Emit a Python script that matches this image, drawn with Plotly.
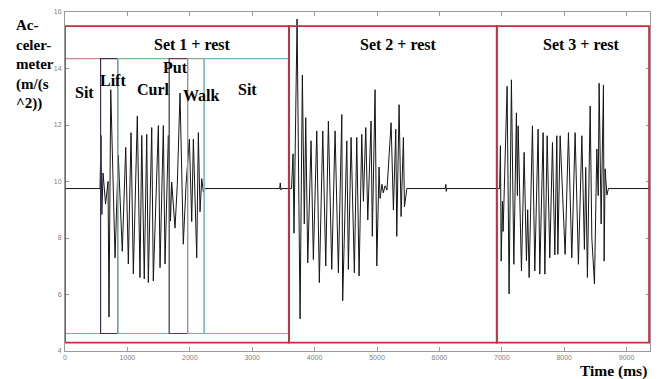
import plotly.graph_objects as go

# ---- signal: times (ms) and acceleration (m/s^2) ----
t_set1 = [0, 561, 577, 590, 610, 650, 690, 705, 733, 802, 854, 918, 973, 1015, 1058, 1095,
          1159, 1202, 1230, 1270, 1310, 1335, 1390, 1415, 1496, 1523, 1576, 1603, 1656,
          1690, 1710, 1763, 1800, 1843, 1896, 1940, 1993, 2031, 2057, 2111, 2137, 2164,
          2191, 2217, 2244, 3440, 3450, 3460, 3470]
a_set1 = [9.75, 9.75, 11.63, 8.83, 10.3, 9.2, 10.0, 5.20, 13.25, 7.30, 10.93, 7.53, 11.21, 7.08,
          11.73, 6.73, 12.32, 6.60, 11.63, 6.55, 11.67, 6.42, 11.91, 6.48, 11.98, 6.95, 11.98,
          7.08, 11.63, 8.6, 9.98, 8.35, 9.9, 13.13, 7.78, 9.9, 11.50, 8.58, 11.50, 7.30, 11.73,
          8.93, 10.10, 9.63, 9.75, 9.75, 9.95, 9.70, 9.75]

t_set2 = [3630, 3655, 3670, 3685, 3719, 3767, 3804, 3835, 3858, 3890, 3943, 3980, 4035, 4076,
          4131, 4179, 4221, 4275, 4328, 4381, 4436, 4450, 4516, 4541, 4585, 4637, 4676, 4713,
          4756, 4782, 4820, 4852, 4905, 4925, 4969, 4997, 5033, 5049, 5080, 5100, 5130, 5160,
          5226, 5263, 5301, 5317, 5354, 5386, 5423, 5440, 5478, 6095, 6103, 6110, 6118]
a_set2 = [9.75, 10.98, 8.17, 10.5, 15.75, 5.14, 13.77, 8.5, 12.26, 7.12, 11.44, 7.24, 11.79, 6.42,
          11.79, 7.01, 12.14, 6.89, 11.79, 6.77, 12.37, 5.78, 11.44, 6.89, 11.56, 6.77, 11.56,
          6.66, 11.67, 9.3, 11.91, 8.64, 12.14, 8.06, 13.25, 7.01, 10.51, 9.4, 9.9, 9.6, 9.85,
          9.7, 12.08, 8.99, 11.85, 8.06, 12.72, 8.76, 11.56, 9.1, 9.75, 9.75, 9.9, 9.65, 9.75]

t_set3 = [6965, 6978, 6990, 7010, 7021, 7040, 7085, 7117, 7154, 7193, 7234, 7250, 7262, 7315,
          7358, 7395, 7415, 7438, 7491, 7529, 7582, 7609, 7662, 7690, 7727, 7769, 7812, 7850,
          7882, 7898, 7935, 8015, 8068, 8122, 8175, 8228, 8283, 8324, 8345, 8372, 8416, 8443,
          8485, 8523, 8545, 8560, 8592, 8629, 8640, 8656, 8684, 8709, 9375]
a_set3 = [9.75, 11.27, 7.18, 9.3, 8.23, 9.6, 13.37, 6.02, 13.60, 7.07, 12.43, 9.5, 11.97, 6.83,
          11.03, 7.2, 9.0, 6.60, 11.97, 6.83, 11.85, 6.72, 11.73, 6.72, 11.62, 7.30, 11.38, 7.4,
          11.62, 7.42, 11.62, 7.42, 11.73, 7.30, 11.73, 7.07, 11.62, 7.6, 10.5, 6.60, 12.67, 8.0,
          6.37, 11.15, 9.5, 13.48, 8.5, 13.42, 7.18, 10.45, 9.52, 9.75, 9.75]

time_ms = t_set1 + t_set2 + t_set3
accel = a_set1 + a_set2 + a_set3

# ---- segment boxes ----
set_names = ["Set 1 + rest", "Set 2 + rest", "Set 3 + rest"]
set_start = [0, 3590, 6920]
set_end = [3590, 6920, 9360]
set_low, set_high = 4.3, 15.5

act_names = ["Sit", "Lift", "Curl", "Put", "Walk", "Sit"]
act_start = [0, 570, 845, 1670, 1965, 2230]
act_end = [570, 845, 1670, 1965, 2230, 3580]
act_low, act_high = 4.62, 14.35
act_colors = ["#d4808e", "#3c2f55", "#6fbf94", "#7a2e55", "#8aa88a", "#6cbcc4"]
act_label_x = [320, 770, 1411, 1763, 2191, 2917]
act_label_y = [13.15, 13.56, 13.24, 14.04, 13.04, 13.25]
set_label_x = [2044, 5343, 8283]
set_label_y = 14.84

x_ticks = [0, 1000, 2000, 3000, 4000, 5000, 6000, 7000, 8000, 9000]
y_ticks = [4, 6, 8, 10, 12, 14, 16]

fig = go.Figure()
fig.add_trace(go.Scatter(x=time_ms, y=accel, mode="lines",
                         line=dict(color="#151515", width=1.0), showlegend=False,
                         hoverinfo="skip"))

shapes = []
for x0, x1, c in zip(act_start, act_end, act_colors):
    shapes.append(dict(type="rect", xref="x", yref="y", x0=x0, x1=x1, y0=act_low, y1=act_high,
                       line=dict(color=c, width=1.1)))
for x0, x1 in zip(set_start, set_end):
    shapes.append(dict(type="rect", xref="x", yref="y", x0=x0, x1=x1, y0=set_low, y1=set_high,
                       line=dict(color="#c4303f", width=1.8)))

serif = "Liberation Serif, Times New Roman, serif"
ann = []
for name, x in zip(set_names, set_label_x):
    ann.append(dict(x=x, y=set_label_y, xref="x", yref="y", text="<b>%s</b>" % name,
                    showarrow=False, font=dict(family=serif, size=16, color="black")))
for name, x, y in zip(act_names, act_label_x, act_label_y):
    ann.append(dict(x=x, y=y, xref="x", yref="y", text="<b>%s</b>" % name,
                    showarrow=False, font=dict(family=serif, size=16, color="black")))
ann.append(dict(x=-0.088, y=0.845, xref="paper", yref="paper", xanchor="left", yanchor="middle",
                align="left", showarrow=False,
                text="<b>Ac-<br>celer-<br>meter<br>(m/(s<br>^2))</b>",
                font=dict(family=serif, size=15, color="black")))
ann.append(dict(x=0.937, y=-0.060, xref="paper", yref="paper", xanchor="center", yanchor="middle",
                showarrow=False, text="<b>Time (ms)</b>",
                font=dict(family=serif, size=15.5, color="black")))

axis_common = dict(showline=True, linecolor="#9a9a9a", linewidth=1, mirror="ticks",
                   ticks="inside", ticklen=4, tickcolor="#9a9a9a", showgrid=False,
                   zeroline=False, tickfont=dict(family="Arial, Liberation Sans", size=7,
                                                 color="#808080"))
fig.update_layout(
    width=664, height=379,
    margin=dict(l=65, r=14, t=8, b=28),
    paper_bgcolor="white", plot_bgcolor="white",
    shapes=shapes, annotations=ann,
    xaxis=dict(range=[0, 9375], tickvals=x_ticks, ticktext=[str(v) for v in x_ticks],
               **axis_common),
    yaxis=dict(range=[4, 16], tickvals=y_ticks, ticktext=[str(v) for v in y_ticks],
               ticklabelstandoff=1, **axis_common),
)

fig.write_html("out.html")
